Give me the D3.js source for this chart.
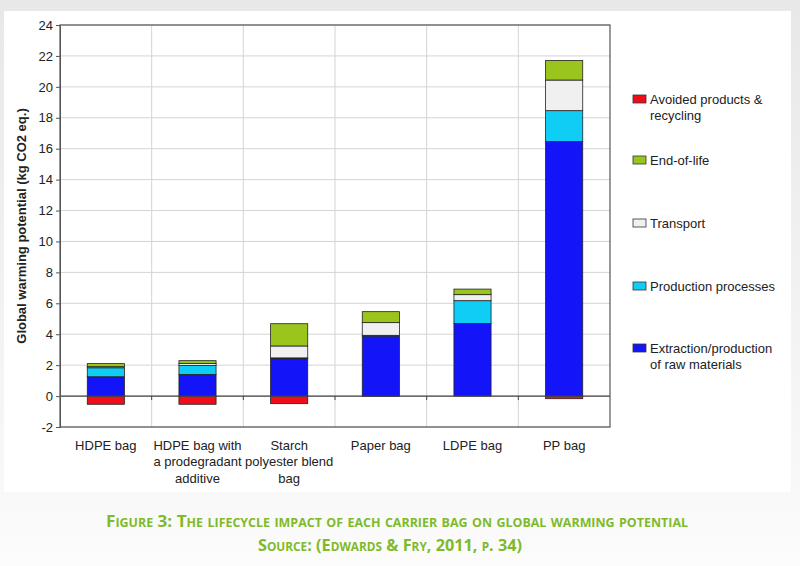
<!DOCTYPE html>
<html>
<head>
<meta charset="utf-8">
<script src="https://cdn.jsdelivr.net/npm/d3@7"></script>
<style>
  body { margin: 0; background: #f8f8f8; }
  svg { display: block; }
</style>
</head>
<body>
<div id="chart"></div>
<script>
// Bags and stacked contributions (kg CO2 eq.)
const bags = ["HDPE bag", "HDPE bag with|a prodegradant|additive", "Starch|polyester blend|bag", "Paper bag", "LDPE bag", "PP bag"];
const extraction = [1.25, 1.40, 2.42, 3.88, 4.70, 16.47];
const production = [0.58, 0.58, 0.05, 0.05, 1.47, 1.99];
const transport  = [0.07, 0.12, 0.77, 0.82, 0.39, 1.98];
const endOfLife  = [0.20, 0.19, 1.44, 0.71, 0.36, 1.27];
const avoided    = [-0.53, -0.53, -0.49, -0.02, 0, -0.17];

const yTicks = [-2, 0, 2, 4, 6, 8, 10, 12, 14, 16, 18, 20, 22, 24];

const series = [
  { name: "Extraction/production|of raw materials", values: extraction, color: "#1414f8" },
  { name: "Production processes", values: production, color: "#10cdf5" },
  { name: "Transport", values: transport, color: "#f0f0f0" },
  { name: "End-of-life", values: endOfLife, color: "#9ac51c" },
  { name: "Avoided products &|recycling", values: avoided, color: "#f00d1a" }
];

const width = 800, height = 566;
const margin = { top: 25, right: 190, bottom: 139, left: 60 };

const svg = d3.select("#chart").append("svg")
  .attr("width", width)
  .attr("height", height)
  .style("font-family", "Liberation Sans, Arial, sans-serif");

// page backdrop and white panel
const grad = svg.append("defs").append("linearGradient")
  .attr("id", "bg").attr("x1", 0).attr("y1", 0).attr("x2", 0).attr("y2", 1);
grad.append("stop").attr("offset", "0%").attr("stop-color", "#e8e8e8");
grad.append("stop").attr("offset", "85%").attr("stop-color", "#f8f8f8");
grad.append("stop").attr("offset", "100%").attr("stop-color", "#fcfcfc");
svg.append("rect").attr("width", width).attr("height", height).attr("fill", "url(#bg)");
svg.append("rect").attr("x", 4).attr("y", 11).attr("width", 787).attr("height", 481).attr("fill", "#fff");

const x = d3.scaleBand()
  .domain(bags)
  .range([margin.left, width - margin.right])
  .paddingInner(0)
  .paddingOuter(0);

const y = d3.scaleLinear()
  .domain([-2, 24])
  .range([height - margin.bottom, margin.top]);

const barW = x.bandwidth() * 0.405;

// horizontal grid
svg.append("g")
  .selectAll("line")
  .data(yTicks)
  .join("line")
  .attr("x1", margin.left).attr("x2", width - margin.right)
  .attr("y1", d => y(d)).attr("y2", d => y(d))
  .attr("stroke", "#d4d4d4");

// vertical dividers
svg.append("g")
  .selectAll("line")
  .data(bags.slice(1))
  .join("line")
  .attr("x1", d => x(d)).attr("x2", d => x(d))
  .attr("y1", margin.top).attr("y2", height - margin.bottom)
  .attr("stroke", "#d4d4d4");

// stacked bars: positives from 0 upward, negatives downward
const bars = svg.append("g");
bags.forEach((bag, i) => {
  let pos = 0, neg = 0;
  series.forEach(s => {
    const v = s.values[i];
    if (v === 0) return;
    let y0, y1;
    if (v > 0) { y0 = pos; y1 = pos + v; pos = y1; }
    else { y0 = neg + v; y1 = neg; neg = y0; }
    bars.append("rect")
      .attr("x", x(bag) + (x.bandwidth() - barW) / 2)
      .attr("width", barW)
      .attr("y", y(y1))
      .attr("height", y(y0) - y(y1))
      .attr("fill", s.color)
      .attr("stroke", "#222")
      .attr("stroke-width", 0.8);
  });
});

// zero line with small ticks at category borders
svg.append("line")
  .attr("x1", margin.left).attr("x2", width - margin.right)
  .attr("y1", y(0)).attr("y2", y(0))
  .attr("stroke", "#444").attr("stroke-width", 1.2);
svg.append("g")
  .selectAll("line")
  .data(bags.slice(1))
  .join("line")
  .attr("x1", d => x(d)).attr("x2", d => x(d))
  .attr("y1", y(0)).attr("y2", y(0) + 4)
  .attr("stroke", "#444");

// plot frame
svg.append("rect")
  .attr("x", margin.left).attr("y", margin.top)
  .attr("width", width - margin.right - margin.left)
  .attr("height", height - margin.bottom - margin.top)
  .attr("fill", "none").attr("stroke", "#555").attr("stroke-width", 1.2);

// y axis
const yAxis = svg.append("g")
  .attr("transform", `translate(${margin.left},0)`)
  .call(d3.axisLeft(y).tickValues(yTicks).tickSize(4).tickPadding(3).tickFormat(d => String(d)));
yAxis.select(".domain").attr("stroke", "#555");
yAxis.selectAll(".tick line").attr("stroke", "#555");
yAxis.selectAll(".tick text").attr("fill", "#222").style("font-size", "13px")
  .style("font-family", "Liberation Sans, Arial, sans-serif");

svg.append("text")
  .attr("transform", `translate(26,${(y(-2) + y(24)) / 2}) rotate(-90)`)
  .attr("text-anchor", "middle")
  .style("font-size", "13px").style("font-weight", "bold").attr("fill", "#222")
  .text("Global warming potential (kg CO2 eq.)");

// x labels
bags.forEach(bag => {
  const t = svg.append("text")
    .attr("x", x(bag) + x.bandwidth() / 2)
    .attr("y", y(-2) + 23)
    .attr("text-anchor", "middle")
    .style("font-size", "13px").attr("fill", "#222");
  bag.split("|").forEach((ln, k) => {
    t.append("tspan").attr("x", x(bag) + x.bandwidth() / 2).attr("dy", k ? 16.3 : 0).text(ln);
  });
});

// legend (top to bottom: reverse stack order)
const legendY = [104, 165, 228, 291, 353];
const legend = svg.append("g");
series.slice().reverse().forEach((s, i) => {
  legend.append("rect")
    .attr("x", 633).attr("y", legendY[i] - 9)
    .attr("width", 13).attr("height", 8)
    .attr("fill", s.color).attr("stroke", "#333").attr("stroke-width", 0.8);
  const t = legend.append("text")
    .attr("x", 650).attr("y", legendY[i])
    .style("font-size", "13px").attr("fill", "#222");
  s.name.split("|").forEach((ln, k) => {
    t.append("tspan").attr("x", 650).attr("dy", k ? 16 : 0).text(ln);
  });
});

// caption
const cap = svg.append("g")
  .style("font-family", "Open Sans, Lato, sans-serif")
  .style("font-weight", "bold")
  .style("font-variant", "small-caps")
  .attr("fill", "#7fba2a")
  .attr("text-anchor", "middle");
cap.append("text").attr("x", 397).attr("y", 527).style("font-size", "16.5px")
  .attr("textLength", 582).attr("lengthAdjust", "spacingAndGlyphs")
  .text("Figure 3: The lifecycle impact of each carrier bag on global warming potential");
cap.append("text").attr("x", 390).attr("y", 551).style("font-size", "16.5px")
  .attr("textLength", 264).attr("lengthAdjust", "spacingAndGlyphs")
  .text("Source: (Edwards & Fry, 2011, p. 34)");
</script>
</body>
</html>
